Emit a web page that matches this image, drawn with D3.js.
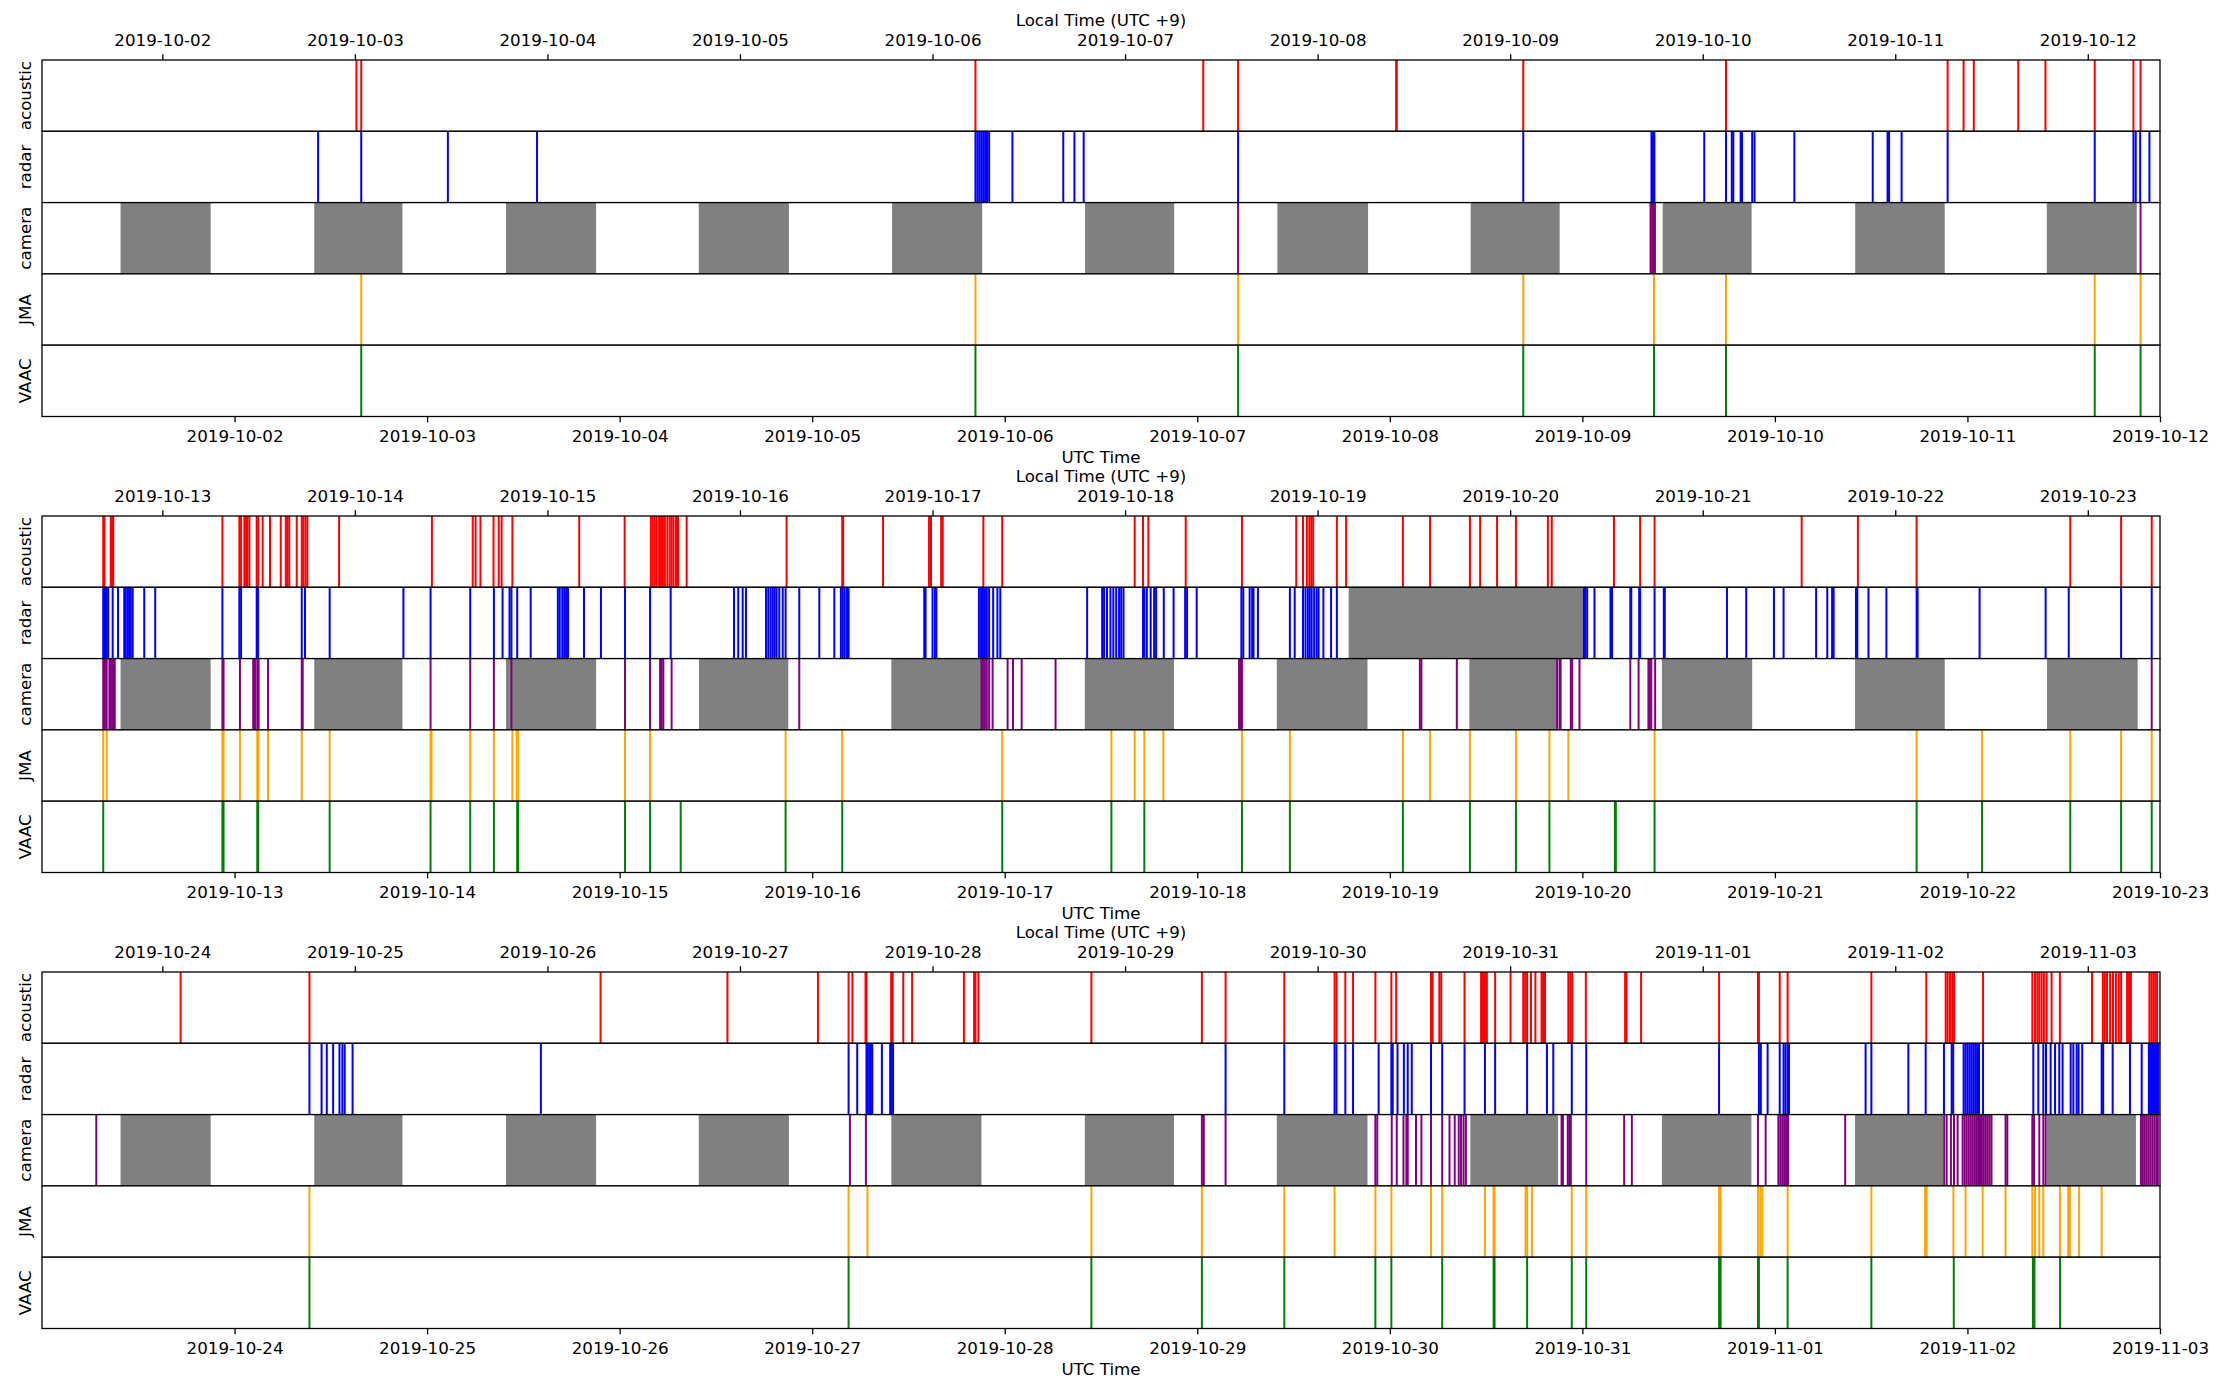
<!DOCTYPE html>
<html>
<head>
<meta charset="utf-8">
<script src="https://cdn.jsdelivr.net/npm/d3@7/dist/d3.min.js"></script>
<style>
  body { margin: 0; background: #fff; }
  svg { display: block; font-family: "DejaVu Sans", sans-serif; }
</style>
</head>
<body>
<div id="chart"></div>
<script>
// Event times, in days since 2019-10-01 00:00 UTC
var acoustic = [
  1.633, 1.658, 4.848, 6.031, 6.212, 7.033, 7.036, 7.693, 8.746, 9.897, 9.980, 10.033, 10.264, 10.405, 10.661, 10.862, 10.899,
  11.318, 11.324, 11.357, 11.364, 11.370, 11.937, 12.025, 12.034, 12.051, 12.060, 12.066, 12.077, 12.115, 12.123, 12.146,
  12.184, 12.240, 12.266, 12.274, 12.284, 12.323, 12.349, 12.357, 12.368, 12.378, 12.543, 13.025, 13.237, 13.252, 13.277,
  13.345, 13.372, 13.387, 13.443, 13.790, 14.026,
  14.162, 14.172, 14.182, 14.192, 14.205, 14.215, 14.225, 14.235, 14.248, 14.260, 14.270, 14.280, 14.293, 14.303, 14.348,
  14.867, 15.156, 15.161, 15.368, 15.607, 15.617, 15.670, 15.678, 15.889, 15.987, 16.675, 16.718, 16.746, 16.940, 17.232,
  17.514, 17.549, 17.569, 17.582, 17.592, 17.602, 17.725, 17.773, 18.068, 18.209,
  18.416, 18.469, 18.557, 18.655, 18.821, 18.841, 19.164, 19.300, 19.375, 20.139, 20.431, 20.736, 21.534, 21.798, 21.957,
  22.720, 23.389, 24.901, 25.560,
  26.030, 26.189, 26.209, 26.277, 26.282, 26.410, 26.418, 26.473, 26.519, 26.788, 26.841, 26.848, 26.863, 27.450, 28.024,
  28.147, 28.452, 28.713, 28.723, 28.769, 28.809, 28.925, 29.008, 29.033, 29.214, 29.222, 29.257, 29.267,
  29.388, 29.474, 29.484, 29.494, 29.504, 29.547, 29.627, 29.693, 29.703, 29.713, 29.733, 29.756, 29.788, 29.796, 29.806,
  29.927, 29.937, 29.947, 30.018, 30.222, 30.229, 30.305, 30.710, 30.912, 30.917, 31.025, 31.066, 31.501, 31.786, 31.887,
  31.897, 31.909, 31.921, 31.930, 32.081, 32.337, 32.351, 32.363, 32.373, 32.385, 32.397, 32.411, 32.437, 32.480, 32.647,
  32.703, 32.713, 32.725, 32.741, 32.756, 32.771, 32.786, 32.798, 32.829, 32.839, 32.849, 32.945, 32.955, 32.965, 32.975,
  32.985
];
var radar = [
  1.434, 1.658, 2.108, 2.571, 4.848, 4.858, 4.868, 4.878, 4.888, 4.898, 4.908, 4.919, 5.040, 5.304, 5.362, 5.410, 6.212,
  7.693, 8.359, 8.367, 8.374, 8.633, 8.746, 8.776, 8.784, 8.822, 8.829, 8.882, 8.894, 9.101, 9.508, 9.585, 9.593, 9.658,
  9.897, 10.661, 10.862, 10.874, 10.897, 10.945,
  11.318, 11.327, 11.336, 11.344, 11.367, 11.395, 11.427, 11.435, 11.445, 11.453, 11.461, 11.471, 11.531, 11.588, 11.937,
  12.025, 12.034, 12.115, 12.122, 12.349, 12.366, 12.494, 12.877, 13.018, 13.224, 13.347, 13.392, 13.428, 13.438, 13.468,
  13.538, 13.679, 13.689, 13.702, 13.712, 13.722, 13.732, 13.815, 13.903, 14.028, 14.158, 14.265, 14.594, 14.616,
  14.639, 14.656, 14.760, 14.772, 14.784, 14.795, 14.805, 14.815, 14.829, 14.847, 14.862, 14.933, 15.037, 15.115, 15.149,
  15.159, 15.169, 15.181, 15.189, 15.582, 15.589, 15.625, 15.637, 15.645, 15.866, 15.877, 15.887, 15.897, 15.907, 15.919,
  15.940, 15.962, 15.977, 16.428, 16.506, 16.516, 16.531, 16.549, 16.564, 16.579, 16.594, 16.605, 16.617, 16.718, 16.725,
  16.738, 16.758, 16.776, 16.786, 16.826, 16.877, 16.937, 16.947, 16.997, 17.229, 17.239, 17.272, 17.285, 17.292, 17.315,
  17.481, 17.506, 17.549, 17.562, 17.574, 17.584, 17.594, 17.607, 17.620, 17.630, 17.655, 17.695, 17.725,
  19.008, 19.015, 19.025, 19.063, 19.146, 19.154, 19.249, 19.254, 19.295, 19.300, 19.375, 19.423, 19.428, 19.751, 19.851,
  19.995, 20.045, 20.214, 20.272, 20.297, 20.305, 20.421, 20.428, 20.486, 20.579, 20.736, 20.741, 21.063, 21.406, 21.526,
  21.798, 21.957,
  23.389, 23.452, 23.479, 23.512, 23.545, 23.560, 23.572, 23.613, 24.591,
  26.189, 26.234, 26.282, 26.289, 26.297, 26.305, 26.312, 26.362, 26.405, 26.413, 26.420, 28.147, 28.452, 28.713, 28.723,
  28.769, 28.809, 28.942, 29.008, 29.015, 29.040, 29.073, 29.093, 29.114, 29.214, 29.272,
  29.388, 29.494, 29.547, 29.713, 29.816, 29.849, 29.945, 30.020, 30.710, 30.917, 30.927, 30.962, 31.025, 31.045, 31.055,
  31.066, 31.073, 31.471, 31.501, 31.693, 31.783, 31.878, 31.918, 31.926, 31.980, 31.990, 32.000, 32.010, 32.020, 32.030,
  32.040, 32.050, 32.060, 32.081, 32.342, 32.368, 32.394, 32.408, 32.432, 32.455, 32.477, 32.494, 32.536, 32.550, 32.567,
  32.577, 32.596, 32.697, 32.705, 32.754, 32.844, 32.905, 32.942, 32.948, 32.955, 32.962, 32.968, 32.974, 32.980, 32.986,
  32.992
];
var camera = [
  6.212, 8.354, 8.362, 8.369, 8.377, 10.899,
  11.318, 11.327, 11.336, 11.350, 11.357, 11.364, 11.370, 11.378, 11.937, 11.943, 12.028, 12.097, 12.106, 12.118, 12.125,
  12.174, 12.349, 12.354, 13.018, 13.224, 13.347, 13.438, 14.028, 14.158, 14.210, 14.218, 14.227, 14.270,
  14.933, 15.879, 15.887, 15.897, 15.907, 15.919, 15.937, 16.015, 16.043, 16.088, 16.264, 17.217, 17.224, 17.232, 18.156,
  18.164, 18.348, 18.869, 18.882, 18.887, 18.940, 18.947, 18.985, 19.249, 19.292, 19.343, 19.350, 19.358, 19.378, 21.957,
  22.282,
  26.196, 26.279, 28.024, 28.034, 28.147, 28.925, 28.935, 29.010, 29.036, 29.071, 29.086, 29.093, 29.136, 29.164, 29.214,
  29.272, 29.310, 29.337,
  29.358, 29.370, 29.383, 29.395, 29.892, 29.899, 29.924, 29.932, 29.940, 30.020, 30.217, 30.257, 30.912, 30.952, 31.018,
  31.028, 31.038, 31.048, 31.058, 31.068, 31.365, 31.879, 31.892, 31.914, 31.930, 31.949, 31.975, 31.985, 31.995, 32.005,
  32.015, 32.025, 32.035, 32.045, 32.055, 32.065, 32.075, 32.085, 32.095, 32.105, 32.115, 32.125, 32.198, 32.207,
  32.337, 32.346, 32.373, 32.394, 32.406, 32.901, 32.911, 32.921, 32.931, 32.941, 32.951, 32.961, 32.971, 32.981, 32.989
];
var jma = [
  1.658, 4.848, 6.212, 7.693, 8.372, 8.746, 10.661, 10.899,
  11.318, 11.336, 11.937, 11.943, 12.028, 12.118, 12.123, 12.174, 12.349, 12.494, 13.018, 13.023, 13.224, 13.347, 13.443,
  13.465, 13.473, 14.028, 14.158, 14.862, 15.156, 15.987, 16.554, 16.675, 16.725, 16.824, 17.232, 17.481, 18.068, 18.209,
  18.416, 18.655, 18.829, 18.927, 19.375, 20.736, 21.076, 21.534, 21.798, 21.957,
  23.389, 26.189, 26.287, 27.450, 28.024, 28.452, 28.713, 28.925, 29.008, 29.214, 29.272,
  29.494, 29.539, 29.544, 29.705, 29.713, 29.738, 29.945, 30.020, 30.710, 30.718, 30.912, 30.924, 30.935, 31.066, 31.501,
  31.780, 31.788, 31.927, 31.990, 32.079, 32.198, 32.337, 32.351, 32.373, 32.394, 32.480, 32.523, 32.532, 32.580, 32.697
];
var vaac = [
  1.658, 4.848, 6.212, 7.693, 8.372, 8.746, 10.661, 10.899,
  11.318, 11.937, 11.943, 12.118, 12.123, 12.494, 13.018, 13.224, 13.347, 13.468, 13.473, 14.028, 14.158, 14.317,
  14.862, 15.156, 15.987, 16.554, 16.725, 17.232, 17.481, 18.068,
  18.416, 18.655, 18.829, 19.169, 19.174, 19.375, 20.736, 21.076, 21.534, 21.798, 21.957,
  23.389, 26.189, 27.450, 28.024, 28.452, 28.925, 29.008, 29.272,
  29.539, 29.544, 29.713, 29.945, 30.020, 30.710, 30.718, 30.912, 30.917, 31.066, 31.501, 31.929, 32.340, 32.348, 32.481
];

// Night-time (camera blind) intervals, days since 2019-10-01 00:00 UTC
var nightStart = [0.408, 1.414, 2.410, 3.411, 4.415, 5.417, 6.416, 7.420, 8.417, 9.417, 10.412,
                  11.408, 12.414, 13.410, 14.412, 15.411, 16.416, 17.413, 18.413, 19.413, 20.416, 21.413,
                  22.408, 23.414, 24.410, 25.411, 26.411, 27.416, 28.413, 29.418, 30.413, 31.416, 32.411];
var nightEnd = [0.876, 1.872, 2.878, 3.879, 4.883, 5.880, 6.887, 7.882, 8.879, 9.882, 10.879,
                11.876, 12.872, 13.878, 14.876, 15.879, 16.879, 17.884, 18.874, 19.882, 20.882, 21.884,
                22.876, 23.872, 24.878, 25.879, 26.879, 27.879, 28.884, 29.874, 30.878, 31.874, 32.875];
// Radar outage
var radarOffStart = [17.786];
var radarOffEnd = [19.005];

var rows = ["acoustic", "radar", "camera", "JMA", "VAAC"];
var rowColors = ["red", "blue", "purple", "orange", "green"];
var panelStarts = ["2019-10-01", "2019-10-12", "2019-10-23"];
var panelDays = 11;
var localOffset = 9; // hours

// SVG container
var svgWidth = 2217;
var svgHeight = 1382;
var chartLeft = 42;
var chartRight = 2160;
var panelTop = [60, 516, 972];
var panelHeight = 356.5;
var rowHeight = panelHeight / rows.length;
var fontSize = 16.7;

var dayMs = 86400000;
var t0 = Date.UTC(2019, 9, 1);
function toDate(d) { return new Date(t0 + d * dayMs); }

var events = [acoustic, radar, camera, jma, vaac];
var fmt = d3.utcFormat("%Y-%m-%d");

var svg = d3.select("#chart").append("svg")
            .attr("width", svgWidth)
            .attr("height", svgHeight);

panelStarts.forEach(function(startStr, p) {
  var start = new Date(startStr + "T00:00:00Z");
  var end = d3.utcDay.offset(start, panelDays);
  var lo = (start - t0) / dayMs;
  var hi = lo + panelDays;

  var xScale = d3.scaleUtc().domain([start, end]).range([chartLeft, chartRight]).clamp(true);
  var localScale = d3.scaleUtc()
                     .domain([d3.utcHour.offset(start, localOffset), d3.utcHour.offset(end, localOffset)])
                     .range([chartLeft, chartRight]);

  var panel = svg.append("g").attr("transform", `translate(0, ${panelTop[p]})`);

  rows.forEach(function(name, i) {
    var rowGroup = panel.append("g").attr("transform", `translate(0, ${i * rowHeight})`);

    rowGroup.append("rect")
            .attr("x", chartLeft).attr("y", 0)
            .attr("width", chartRight - chartLeft).attr("height", rowHeight)
            .attr("fill", "white");

    // Gray spans: nights on the camera row, outage on the radar row
    var spans = [];
    if (name === "camera") {
      nightStart.forEach(function(s, k) { spans.push([s, nightEnd[k]]); });
    }
    if (name === "radar") {
      radarOffStart.forEach(function(s, k) { spans.push([s, radarOffEnd[k]]); });
    }
    rowGroup.selectAll("rect.span")
            .data(spans.filter(d => d[1] > lo && d[0] < hi))
            .enter()
            .append("rect")
            .attr("class", "span")
            .attr("x", d => xScale(toDate(d[0])))
            .attr("width", d => xScale(toDate(d[1])) - xScale(toDate(d[0])))
            .attr("y", 0)
            .attr("height", rowHeight)
            .attr("fill", "#808080");

    // Event markers
    rowGroup.selectAll("line.event")
            .data(events[i].filter(d => d >= lo && d <= hi))
            .enter()
            .append("line")
            .attr("class", "event")
            .attr("x1", d => xScale(toDate(d)))
            .attr("x2", d => xScale(toDate(d)))
            .attr("y1", 0)
            .attr("y2", rowHeight)
            .attr("stroke", rowColors[i])
            .attr("stroke-width", 2);

    // Frame
    rowGroup.append("rect")
            .attr("x", chartLeft).attr("y", 0)
            .attr("width", chartRight - chartLeft).attr("height", rowHeight)
            .attr("fill", "none")
            .attr("stroke", "black")
            .attr("stroke-width", 1.3);

    // Row label
    rowGroup.append("text")
            .attr("transform", `translate(31, ${rowHeight / 2}) rotate(-90)`)
            .attr("text-anchor", "middle")
            .attr("font-size", fontSize)
            .attr("fill", "black")
            .text(name);
  });

  // Top axis in local time
  var localTicks = d3.utcDay.range(d3.utcDay.ceil(localScale.domain()[0]), new Date(+localScale.domain()[1] + 1));
  var topAxis = d3.axisTop(localScale)
                  .tickValues(localTicks)
                  .tickFormat(fmt)
                  .tickSize(5.8)
                  .tickSizeOuter(0)
                  .tickPadding(8.6);
  var topG = panel.append("g").call(topAxis);
  topG.select(".domain").remove();
  topG.selectAll("text").attr("font-size", fontSize).attr("font-family", "DejaVu Sans").attr("fill", "black");
  topG.selectAll("line").attr("stroke-width", 1.3);

  // Bottom axis in UTC
  var utcTicks = d3.utcDay.range(d3.utcDay.offset(start, 1), new Date(+end + 1));
  var bottomAxis = d3.axisBottom(xScale)
                     .tickValues(utcTicks)
                     .tickFormat(fmt)
                     .tickSize(5.8)
                     .tickSizeOuter(0)
                     .tickPadding(8.3);
  var bottomG = panel.append("g")
                     .attr("transform", `translate(0, ${panelHeight})`)
                     .call(bottomAxis);
  bottomG.select(".domain").remove();
  bottomG.selectAll("text").attr("font-size", fontSize).attr("font-family", "DejaVu Sans").attr("fill", "black");
  bottomG.selectAll("line").attr("stroke-width", 1.3);

  // Axis titles
  panel.append("text")
       .attr("x", (chartLeft + chartRight) / 2)
       .attr("y", -34)
       .attr("text-anchor", "middle")
       .attr("font-size", fontSize)
       .text("Local Time (UTC +9)");
  panel.append("text")
       .attr("x", (chartLeft + chartRight) / 2)
       .attr("y", panelHeight + 46)
       .attr("text-anchor", "middle")
       .attr("font-size", fontSize)
       .text("UTC Time");
});
</script>
</body>
</html>
